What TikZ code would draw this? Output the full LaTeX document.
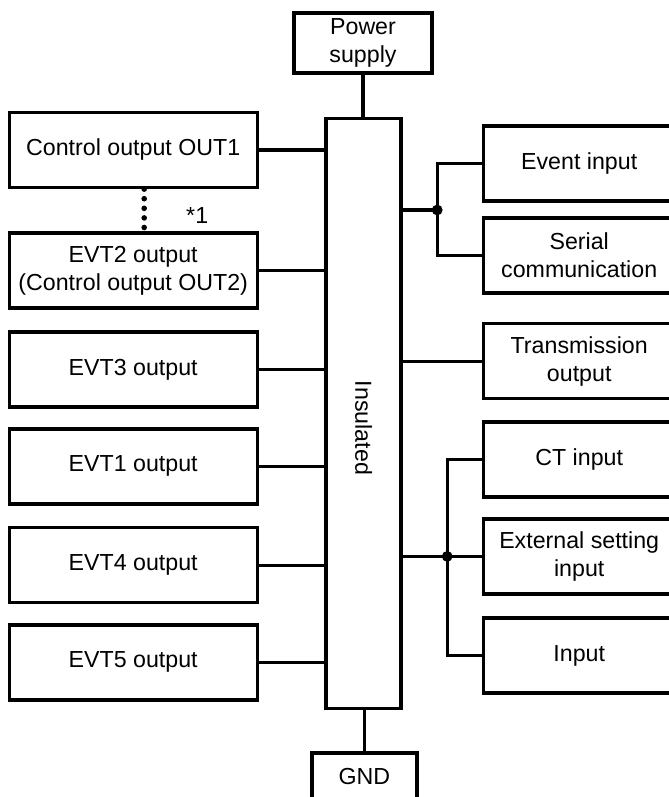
\documentclass[tikz,border=0pt]{standalone}
\usepackage{fontspec}
\setmainfont{Liberation Sans}
\begin{document}
\begin{tikzpicture}[line width=2.3pt, font=\fontsize{16.5}{19.8}\selectfont,
    box/.style={draw, rectangle, align=center, inner sep=2pt},
    outbox/.style={box, minimum width=6.2cm, minimum height=1.875cm},
    inbox/.style={box, minimum width=4.8cm, minimum height=1.875cm},
    joint/.style={circle, fill, inner sep=0pt, minimum size=0.27cm},
    dotchain/.style={line width=0.14cm, line cap=round, dash pattern=on 0pt off 0.24cm}]
        % Frame (right and bottom boxes run past the edge)
        \path[use as bounding box, clip] (0,0) rectangle (16.725,-19.925);

        % Centre block
        \node[box, minimum width=1.875cm, minimum height=14.75cm] (ins) at (9.09,-10.33) {};
        \node[rotate=-90] (inslabel) at (9.09,-10.7) {Insulated};
        \node[box, minimum width=3.45cm, minimum height=1.5cm] (power) at (9.075,-1.075) {Power\\supply};
        \node[box, minimum width=2.625cm, minimum height=1.175cm] (gnd) at (9.11,-19.41) {GND};
        \draw (power.south) -- (power.south |- ins.north);
        \draw (gnd.north) -- (gnd.north |- ins.south);

        % Outputs (left side)
        \node[outbox] (out1) at (3.33,-3.75) {Control output OUT1};
        \node[outbox] (evt2) at (3.33,-6.76) {EVT2 output\\(Control output OUT2)};
        \foreach \n/\y/\t in {evt3/-9.24/EVT3, evt1/-11.66/EVT1, evt4/-14.13/EVT4, evt5/-16.56/EVT5} {
            \node[outbox] (\n) at (3.33,\y) {\t\ output};
        }
        \foreach \n in {out1, evt2, evt3, evt1, evt4, evt5} {
            \draw (\n.east) -- (\n.east -| ins.west);
        }
        \draw[dotchain] ([xshift=0.275cm]out1.south) -- ++(0,-0.975);
        \node (note) at (4.93,-5.38) {*1};

        % Inputs (right side)
        \node[inbox] (event) at (14.48,-4.09) {Event input};
        \node[inbox] (serial) at (14.48,-6.39) {Serial\\communication};
        \node[inbox] (trans) at (14.48,-9.03) {Transmission\\output};
        \node[inbox] (ct) at (14.48,-11.49) {CT input};
        \node[inbox] (ext) at (14.48,-13.91) {External setting\\input};
        \node[inbox] (input) at (14.48,-16.39) {Input};

        \coordinate (j1) at (10.93,-5.25);
        \coordinate (j2) at (11.18,-13.91);
        \draw (ins.east |- j1) -- (j1);
        \draw (event.west) -| (j1) |- (serial.west);
        \draw (trans.west) -- (trans.west -| ins.east);
        \draw (ins.east |- j2) -- (ext.west);
        \draw (ct.west) -| (j2) |- (input.west);
        \node[joint] (dot1) at (j1) {};
        \node[joint] (dot2) at (j2) {};
\end{tikzpicture}
\end{document}
